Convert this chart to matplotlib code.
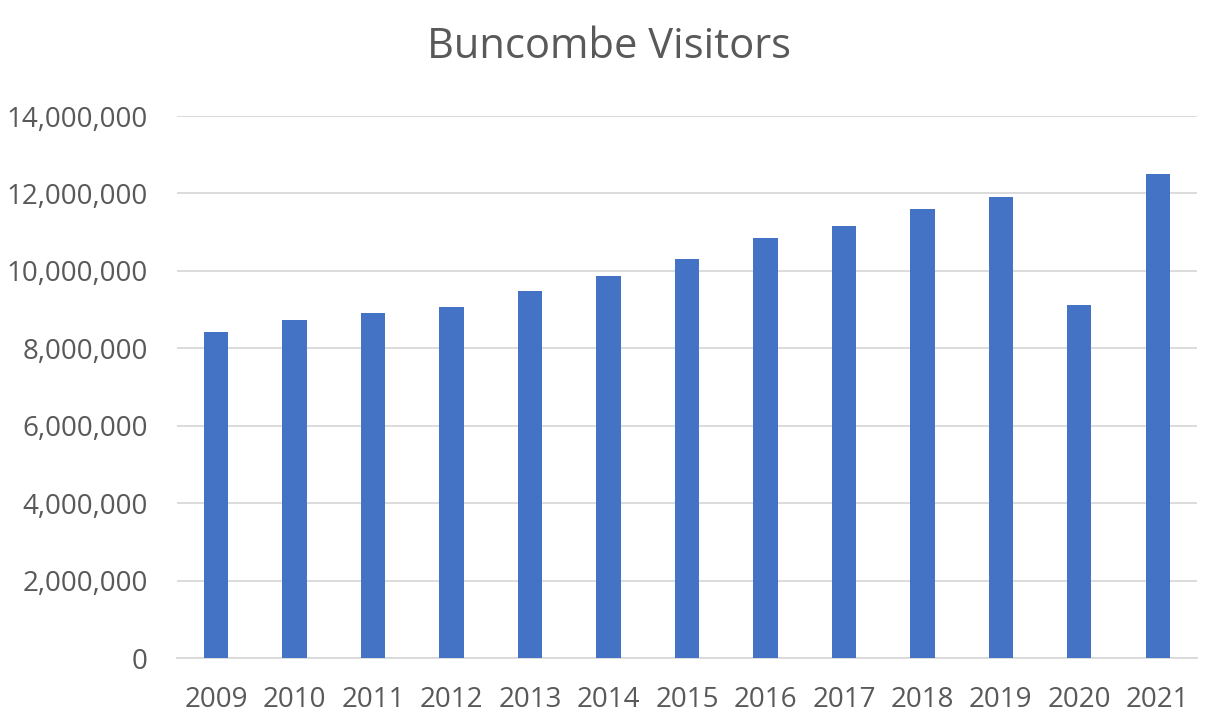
import numpy as np
import matplotlib.pyplot as plt
from matplotlib.ticker import FuncFormatter

years = ['2009', '2010', '2011', '2012', '2013', '2014', '2015',
         '2016', '2017', '2018', '2019', '2020', '2021']
visitors = [8430000, 8720000, 8910000, 9070000, 9480000, 9860000, 10310000,
            10860000, 11150000, 11590000, 11910000, 9110000, 12500000]

plt.rcParams['font.family'] = ['Open Sans', 'DejaVu Sans']

fig = plt.figure(figsize=(12.1, 7.22), dpi=100)
ax = fig.add_axes([0.1461, 0.0886, 0.8432, 0.7507])

x = np.arange(len(years))
ax.bar(x, visitors, width=0.31, color='#4472C4', zorder=3)

ax.set_xlim(-0.5, len(years) - 0.5)
ax.set_ylim(0, 14000000)
ax.set_yticks(np.arange(0, 14000001, 2000000))
ax.yaxis.set_major_formatter(FuncFormatter(lambda v, p: '{:,.0f}'.format(v)))
ax.set_xticks(x)
ax.set_xticklabels(years)

ax.grid(axis='y', color='#d9d9d9', linewidth=1.3, zorder=0)
for s in ['top', 'right', 'left']:
    ax.spines[s].set_visible(False)
ax.spines['bottom'].set_color('#d9d9d9')
ax.spines['bottom'].set_linewidth(1.3)
ax.tick_params(axis='both', length=0, labelsize=20, colors='#595959')
ax.tick_params(axis='x', pad=20)
ax.tick_params(axis='y', pad=21)

fig.text(0.503, 0.935, 'Buncombe Visitors', ha='center', va='center',
         fontsize=30, color='#595959')

plt.savefig('out.png')
